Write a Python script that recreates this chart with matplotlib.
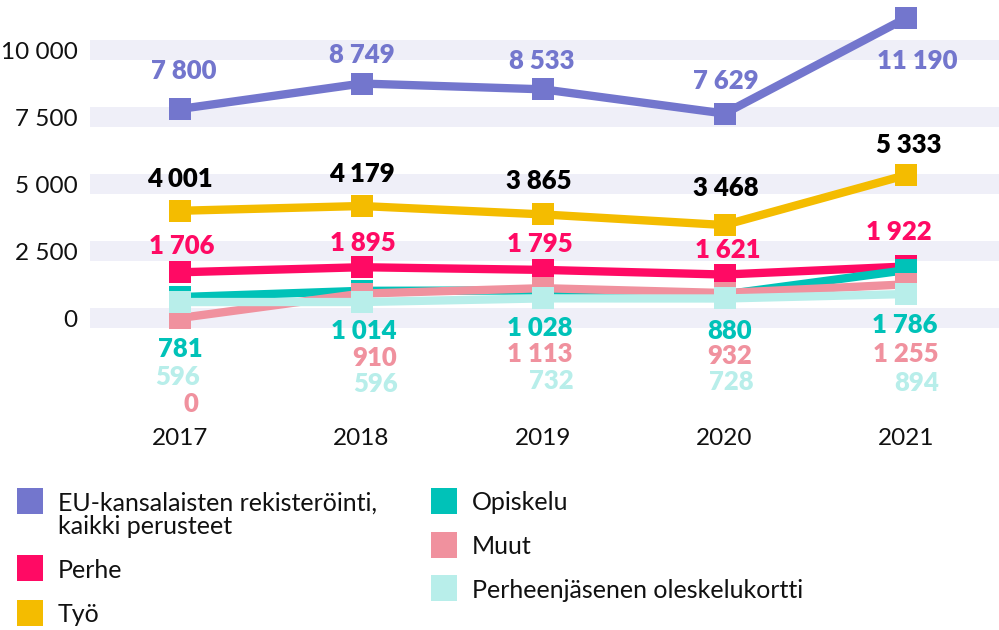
import matplotlib
matplotlib.use("Agg")
import matplotlib.pyplot as plt
from matplotlib.patches import Rectangle

plt.rcParams["font.family"] = ["Lato", "DejaVu Sans"]

years = ["2017", "2018", "2019", "2020", "2021"]
names = ["EU-kansalaisten rekisteröinti,\nkaikki perusteet", "Perhe", "Työ",
         "Opiskelu", "Muut", "Perheenjäsenen oleskelukortti"]
eu = [7800, 8749, 8533, 7629, 11190]
perhe = [1706, 1895, 1795, 1621, 1922]
tyo = [4001, 4179, 3865, 3468, 5333]
opiskelu = [781, 1014, 1028, 880, 1786]
muut = [0, 910, 1113, 932, 1255]
perheenj = [596, 596, 732, 728, 894]
series = [eu, perhe, tyo, opiskelu, muut, perheenj]
yticks = [0, 2500, 5000, 7500, 10000]

colors = ["#7376CD", "#FF0A64", "#F4BC00", "#00C2B8", "#F0919E", "#B8EEEA"]
label_colors = ["#7376CD", "#FF0A64", "#000000", "#00C2B8", "#F0919E", "#B8EEEA"]
# label offsets in pixels (dx, dy up) from each marker, as placed in the original
dxs = [[4, 0.5, -1, 1.5, 11], [2, 1.5, -3, 3.5, -7], [0, 0.5, -4, 1.5, 3],
       [0.5, 2.5, -3, 5.5, -1], [11, 13.5, -3, 5.5, 0], [-2, 14.5, 8, 6.5, 11]]
dys = [[39, 30, 30, 33.5, -41.5], [28, 26, 27.5, 25.6, 35.5], [33, 33, 35, 38, 31.5],
       [-50.4, -39.2, -36.6, -35.6, -53.9], [-84.5, -62.9, -64.8, -62, -68.6],
       [-73.5, -80.5, -81.6, -82, -88]]

fig = plt.figure(figsize=(9.99, 6.3), dpi=100)
ax = fig.add_axes([90/999, 210/630, 909/999, 420/630])
ax.set_xlim(-0.496, 4.512)
ax.set_ylim(-3806, 11866)

for v in yticks:
    ax.axhspan(v - 355, v + 355, color="#EFEFF8", lw=0, zorder=0)

x = list(range(len(years)))
for k, (vals, col) in enumerate(zip(series, colors)):
    ax.plot(x, vals, color=col, lw=6, marker="s", markersize=16, mew=0,
            solid_joinstyle="miter", zorder=2 + k)
    for i, v in enumerate(vals):
        txt = f"{v:,}".replace(",", " ")
        ax.annotate(txt, (i, v), xytext=(dxs[k][i], dys[k][i] - 9.3),
                    textcoords="offset pixels", ha="center", va="baseline",
                    fontsize=18.5, fontweight="heavy", color=label_colors[k], zorder=10)

ax.set_xticks(x, years)
ax.set_yticks(yticks, [f"{v:,}".replace(",", " ") for v in yticks])
ax.tick_params(length=0, labelsize=17.5, colors="#111111")
ax.tick_params(axis="x", pad=5.5)
ax.tick_params(axis="y", pad=9)
for s in ax.spines.values():
    s.set_visible(False)

# legend, two columns
sq_x = [17, 431, 17, 431, 17, 431]
leg_order = [0, 3, 1, 4, 2, 5]
sq_y = [501, 501, 568, 545, 613, 588]
for j, k in enumerate(leg_order):
    xs, yc = sq_x[j], sq_y[j]
    fig.patches.append(Rectangle((xs/999, 1 - (yc + 13)/630), 26/999, 26/630,
                                 transform=fig.transFigure, color=colors[k], lw=0))
    ty = yc + 2 if k != 0 else yc + 14
    fig.text((xs + 41)/999, 1 - ty/630, names[k], ha="left", va="center",
             fontsize=18, color="#111111", linespacing=1.05)

fig.savefig("out.png", dpi=100, facecolor="white")
